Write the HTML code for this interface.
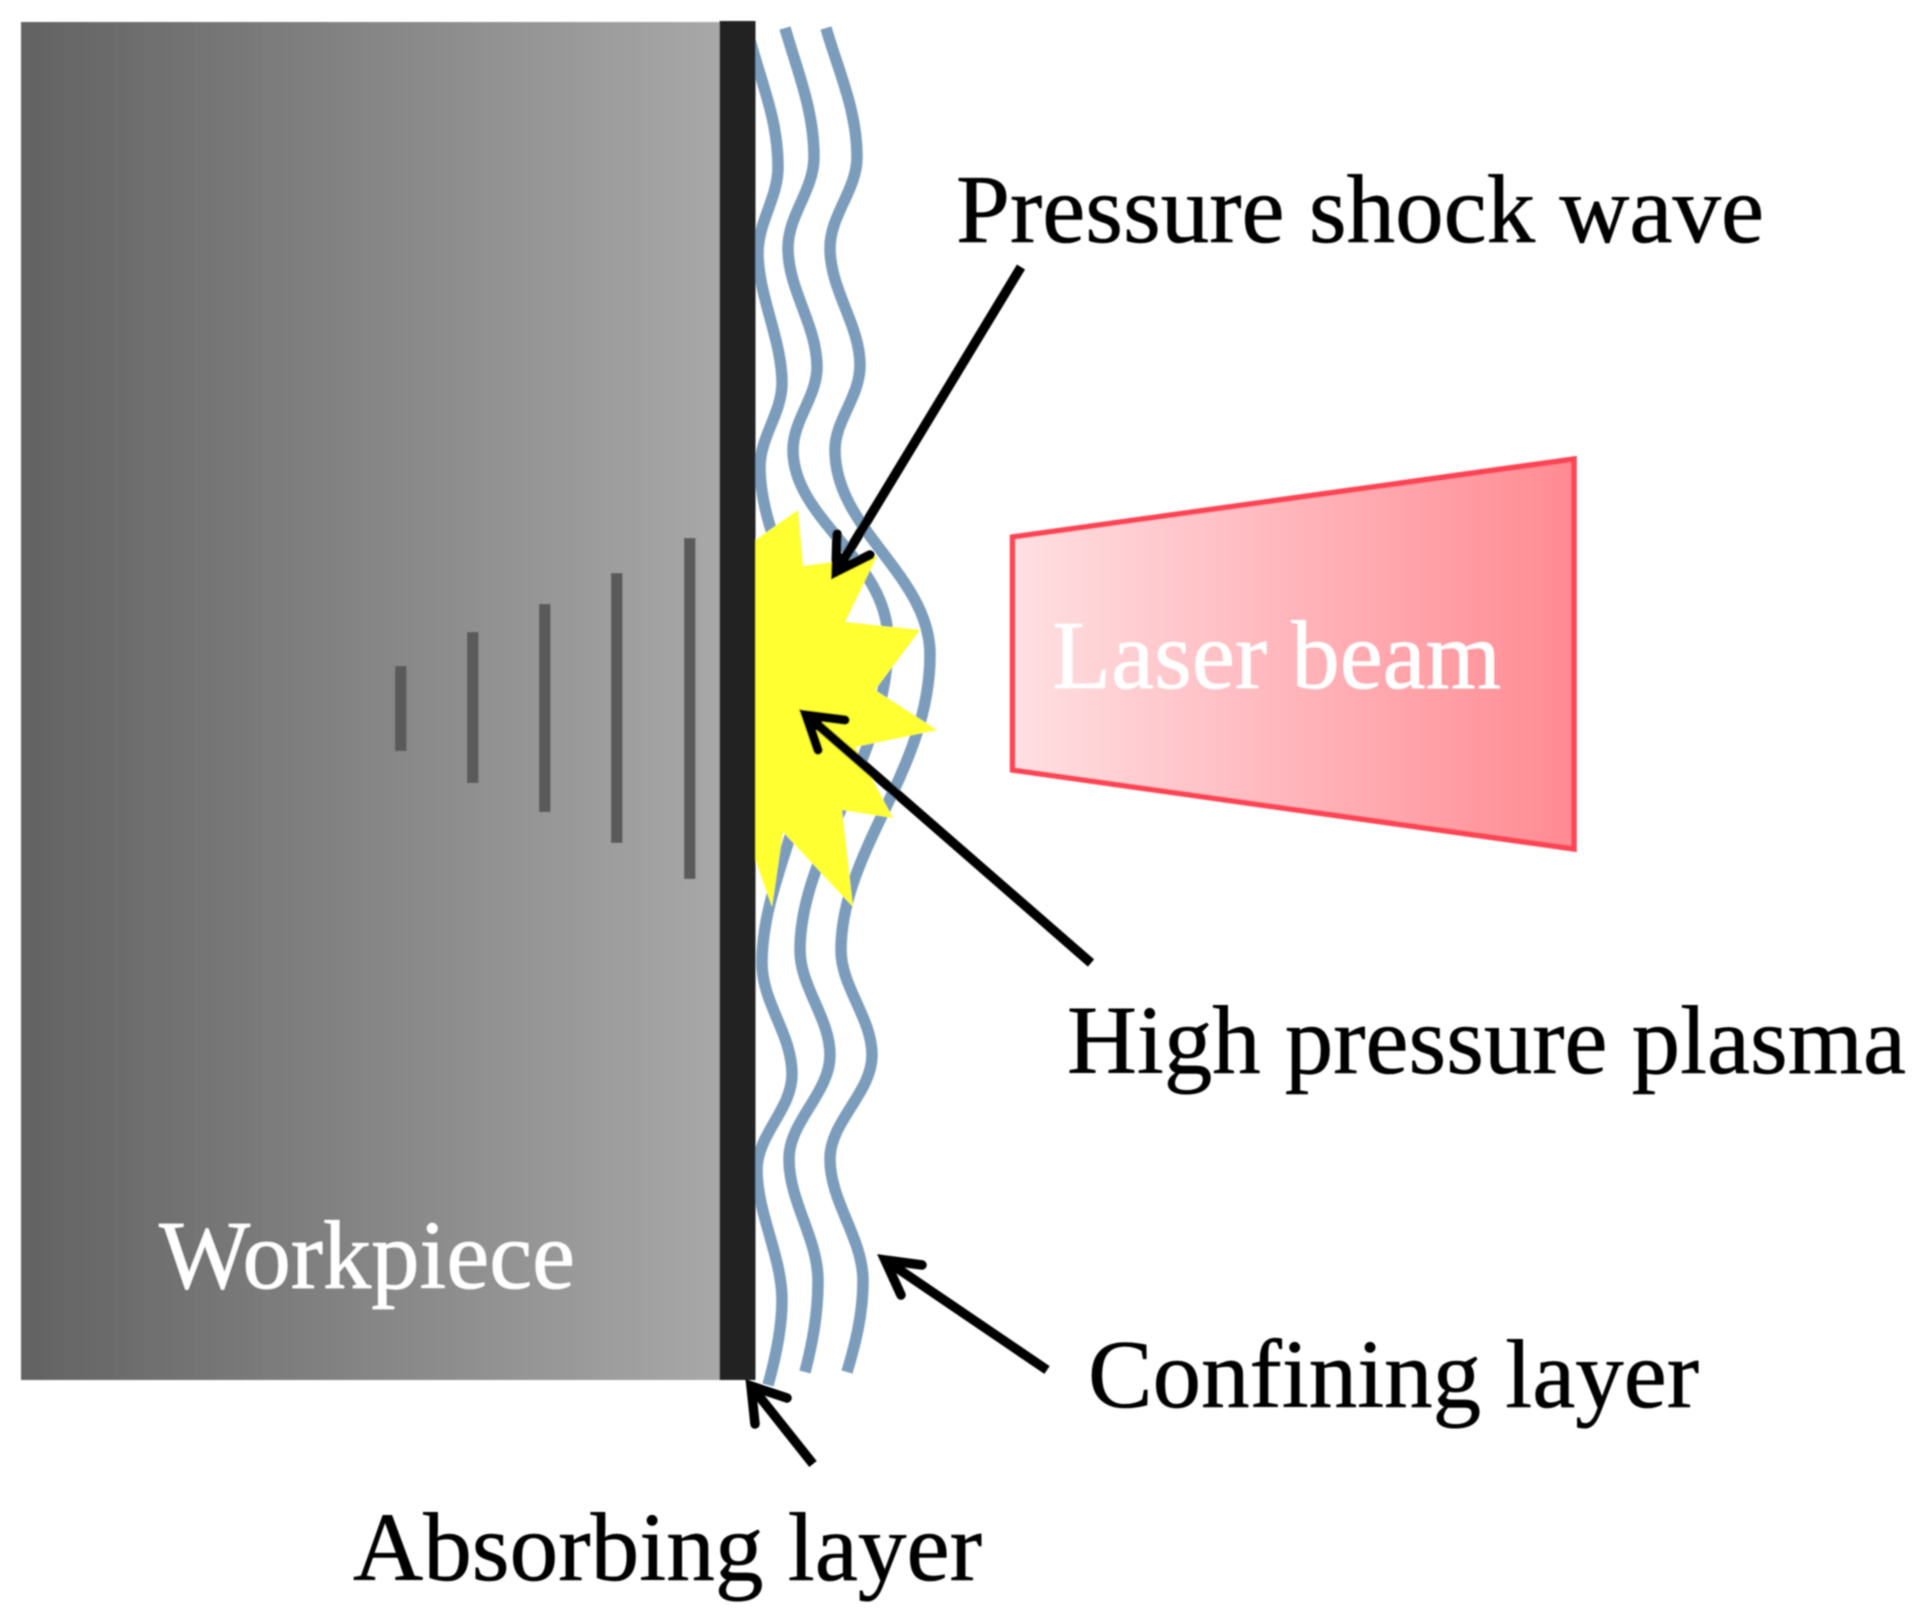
<!DOCTYPE html>
<html lang="en">
<head>
<meta charset="utf-8">
<title>Laser shock peening diagram</title>
<style>
html,body{margin:0;padding:0;background:#fff;width:1918px;height:1618px;overflow:hidden}
svg{display:block}
text{font-family:"Liberation Serif",serif;font-size:97px}
</style>
</head>
<body>
<svg xmlns="http://www.w3.org/2000/svg" width="1918" height="1618" viewBox="0 0 1918 1618">
<defs>
<linearGradient id="g" x1="0" x2="1" y1="0" y2="0"><stop offset="0" stop-color="#626262"/><stop offset="1" stop-color="#a8a8a8"/></linearGradient>
<linearGradient id="l" x1="0" x2="1" y1="0" y2="0"><stop offset="0" stop-color="#ffe0e3"/><stop offset="1" stop-color="#ff8a92"/></linearGradient>
<filter id="b" x="-2%" y="-2%" width="104%" height="104%"><feGaussianBlur stdDeviation="0.7"/></filter>
</defs>
<g filter="url(#b)">
<rect x="21" y="22" width="700" height="1358" fill="url(#g)"/>
<g fill="none" stroke="#7b9cbb" stroke-width="11.500">
<path d="M750,40 C762,85 778,120 778,167 C778,198 758,222 758,253 C758,295 782,340 782,383 C782,413 760,437 760,467 C760,540 815,610 815,700 C815,810 762,880 762,963 C762,1003 792,1034 792,1074 C792,1110 757,1134 757,1170 C757,1213 782,1257 782,1300 C782,1330 775,1360 768,1385"/>
<path d="M785,28 C797,70 814,110 814,157 C814,190 788,215 788,248 C788,290 817,325 817,367 C817,397 793,420 793,450 C793,520 888,560 888,640 C888,760 800,850 800,950 C800,987 830,1018 830,1055 C830,1093 789,1121 789,1159 C789,1202 818,1238 818,1281 C818,1315 812,1345 805,1372"/>
<path d="M826,28 C838,70 857,110 857,157 C857,190 830,215 830,248 C830,290 860,325 860,365 C860,397 835,420 835,450 C835,530 930,575 930,655 C930,770 841,850 841,950 C841,987 872,1018 872,1055 C872,1093 830,1121 830,1159 C830,1202 863,1238 863,1281 C863,1315 855,1345 847,1372"/>
</g>
<rect x="719.500" y="21" width="36" height="1359" fill="#222"/>
<g fill="#5a5a5a">
<rect x="395" y="666" width="11.500" height="85"/>
<rect x="467" y="632" width="11.500" height="151"/>
<rect x="539" y="604" width="11.500" height="208"/>
<rect x="611" y="573" width="11.500" height="270"/>
<rect x="684" y="538" width="11.500" height="341"/>
</g>
<polygon fill="#ffff33" points="755.500,540 798,510 803,566 877,556 845,622 920,630 875,690 937,730 855,747 893,818 842,810 853,907 783,832 772,907 755.500,860"/>
<polygon points="1012.500,537 1574,459 1574,849 1012.500,770" fill="url(#l)" stroke="#ff4455" stroke-width="5.500"/>
<g fill="none" stroke="#000" stroke-width="9.500" stroke-linecap="round" stroke-linejoin="miter" stroke-miterlimit="10">
<path d="M1021,267 L838,569" stroke-linecap="butt"/>
<path d="M837,534 L836,572 L870,555"/>
<path d="M1091,963 L811,719" stroke-linecap="butt"/>
<path d="M845,720 L806,715 L818,750"/>
<path d="M1047,1370 L891,1264" stroke-linecap="butt"/>
<path d="M922,1265 L885,1260 L901,1295"/>
<path d="M813,1464 L755,1391" stroke-linecap="butt"/>
<path d="M787,1398 L751,1386 L755,1424"/>
</g>
<g stroke-width="0.600">
<text x="956" y="242" textLength="808" lengthAdjust="spacingAndGlyphs" stroke="#000">Pressure shock wave</text>
<text x="1067" y="1073" textLength="839" lengthAdjust="spacingAndGlyphs" stroke="#000">High pressure plasma</text>
<text x="1052" y="688" textLength="449" lengthAdjust="spacingAndGlyphs" fill="#fff" stroke="#fff">Laser beam</text>
<text x="159" y="1288" textLength="416" lengthAdjust="spacingAndGlyphs" fill="#fff" stroke="#fff">Workpiece</text>
<text x="1088" y="1407" textLength="611" lengthAdjust="spacingAndGlyphs" stroke="#000">Confining layer</text>
<text x="353" y="1580" textLength="629" lengthAdjust="spacingAndGlyphs" stroke="#000">Absorbing layer</text>
</g>
</g>
</svg>
</body>
</html>
